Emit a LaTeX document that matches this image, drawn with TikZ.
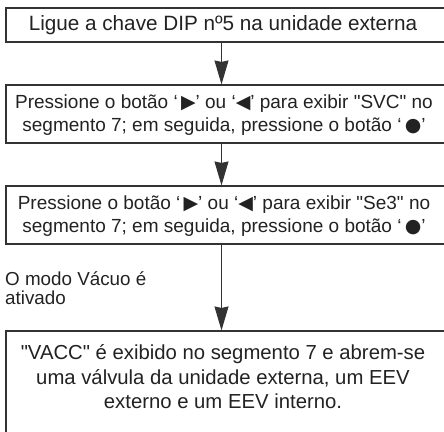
\documentclass[tikz,border=0pt]{standalone}
\usepackage{fontspec}
\setmainfont{Liberation Sans}
\newfontfamily\symfont{DejaVu Sans}
\newfontfamily\dqfont{Liberation Sans}
\usetikzlibrary{arrows.meta}
\definecolor{linec}{HTML}{333333}
\definecolor{textc}{HTML}{222222}
\newcommand{\tri}[1]{{\symfont\fontsize{19}{19}\selectfont #1}}
\newcommand{\dq}{{\dqfont\char34}}
\tikzset{
  boxshape/.style={draw=linec, line width=1.1pt, minimum width=460pt, inner sep=0pt},
  boxtext/.style={align=center, text=textc, inner sep=0pt},
  sidetext/.style={align=left, text=textc, inner sep=0pt, font=\fontsize{18.8}{19}\selectfont},
  flow/.style={draw=linec, line width=1.1pt, -{Stealth[length=24pt, width=14pt, inset=1.5pt, fill=linec]}}
}
\begin{document}
\begin{tikzpicture}[x=1pt, y=-1pt]
\useasboundingbox (0,0) rectangle (444,431);
\clip (0,0) rectangle (444,431);
\node[boxshape, minimum height=34pt] (b1) at (236,25) {};
\node[boxtext, font=\fontsize{20.7}{24.5}\selectfont] (t1) at (223,25) {Ligue a chave DIP nº5 na unidade externa};
\node[boxshape, minimum height=58pt] (b2) at (236,114) {};
\node[boxtext, font=\fontsize{19}{23.5}\selectfont] (t2) at (224,115) {Pressione o botão ‘\,\tri{▶}’ ou ‘\tri{◀}’ para exibir \dq SVC\dq{} no\\segmento 7; em seguida, pressione o botão ‘\,\tri{●}’};
\node[boxshape, minimum height=58pt] (b3) at (236,215) {};
\node[boxtext, font=\fontsize{19}{23.5}\selectfont] (t3) at (224,216) {Pressione o botão ‘\,\tri{▶}’ ou ‘\tri{◀}’ para exibir \dq Se3\dq{} no\\segmento 7; em seguida, pressione o botão ‘\,\tri{●}’};
\node[sidetext, anchor=north west] (lbl) at (5,271) {O modo Vácuo é\\ativado};
\node[boxshape, minimum height=119pt] (b4) at (236,390.5) {};
\node[boxtext, font=\fontsize{20.3}{24.5}\selectfont] (t4) at (223,377) {\dq VACC\dq{} é exibido no segmento 7 e abrem-se\\uma válvula da unidade externa, um EEV\\externo e um EEV interno.};
\coordinate (ax) at (221.5,0);
\draw[flow] (ax |- b1.south) -- (ax |- b2.north);
\draw[flow] (ax |- b2.south) -- (ax |- b3.north);
\draw[flow] (ax |- b3.south) -- (ax |- b4.north);
\end{tikzpicture}
\end{document}
